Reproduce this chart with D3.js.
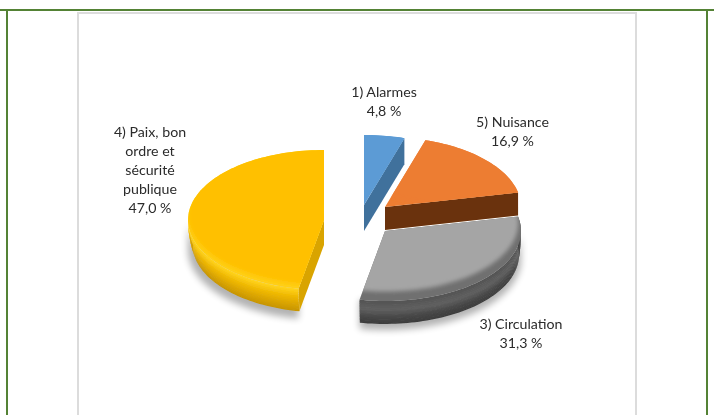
<!DOCTYPE html>
<html><head><meta charset="utf-8">
<script src="https://cdn.jsdelivr.net/npm/d3@7/dist/d3.min.js"></script>
<style>html,body{margin:0;padding:0;background:#fff}svg{display:block}text{font-family:Lato,"Open Sans",sans-serif;font-size:14.2px;fill:#2b2b2b}</style>
</head><body>
<script>
// data
const categories = ["1) Alarmes","5) Nuisance","3) Circulation","4) Paix, bon ordre et sécurité publique"];
const labelLines = [["1) Alarmes"],["5) Nuisance"],["3) Circulation"],["4) Paix, bon","ordre et","sécurité","publique"]];
const values = [4.8,16.9,31.3,47.0];
// colours
const faceColors = ["#5b9bd5","#ed7d31","#a5a5a5","#ffc000"];
const bevelColors = ["#5b9bd5","#ed7d31","#6f6f6f","#ffcf14"];
const wallStops = [["#41719c","#41719c"],["#6b3209","#6b3209"],["#555","#606060","#474747","#3c3c3c"],["#ffd21a","#eeb600","#d8a300","#c49200"]];
const cutColors = ["#41719c","#6b3209","#555","#d9a400"];
// layout
const W=714,H=415,rx=136,ry=70;
const depths=[26,23,24,25];
const rolls=[0,0,0.015,0.035];
const rimLift=[0,0,-8,-5];
const rimScale=[1.2,1.2,0.98,1];
const centers=[[364,205],[385,207],[385,231],[324,220]];
const labelPos=[[384,97],[512.5,127],[521,329],[150,137]];
const lineGap=19;
const drawOrder=[3,0,2,1];
const wallBands=14;

const svg=d3.select("body").append("svg").attr("width",W).attr("height",H);
const defs=svg.append("defs");
defs.append("filter").attr("id","soft").append("feGaussianBlur").attr("stdDeviation",0.6);
defs.append("filter").attr("id","bev").attr("x","-20%").attr("y","-20%").attr("width","140%").attr("height","140%").append("feGaussianBlur").attr("stdDeviation",2);
defs.append("filter").attr("id","shadow").attr("x","-20%").attr("y","-20%").attr("width","140%").attr("height","140%").append("feGaussianBlur").attr("stdDeviation",3.5);

// page frame
const green="#548235",grey="#dcdcdc";
svg.append("rect").attr("x",78).attr("y",13).attr("width",558).attr("height",H).attr("fill","#fff").attr("stroke",grey).attr("stroke-width",2);
svg.append("line").attr("x1",0).attr("x2",W).attr("y1",10).attr("y2",10).attr("stroke",green).attr("stroke-width",2);
svg.append("line").attr("x1",7).attr("x2",7).attr("y1",10).attr("y2",H).attr("stroke",green).attr("stroke-width",2);
svg.append("line").attr("x1",707).attr("x2",707).attr("y1",10).attr("y2",H).attr("stroke",green).attr("stroke-width",2);

const pie=d3.pie().sort(null).value(d=>d)(values);
const pt=(i,a,k=1,dy=0)=>[centers[i][0]+rx*k*Math.sin(a),centers[i][1]-ry*k*Math.cos(a)+dy];
const line=d3.line();
const arcPts=(i,a0,a1,k=1,dy=0)=>{
  const n=Math.max(2,Math.ceil((a1-a0)/0.03));
  return d3.range(n+1).map(j=>pt(i,a0+(a1-a0)*j/n,k,dy));
};
const sector=(i,k=1,dy=0)=>line([pt(i,0,0,dy),...arcPts(i,pie[i].startAngle,pie[i].endAngle,k,dy)])+"Z";
// the lower edge of the wall rolls inward a little
const kAt=(i,t)=>1-rolls[i]*t*t;

const g=svg.append("g").attr("filter","url(#soft)");
drawOrder.forEach(i=>{
  const p=pie[i],d=depths[i],PI=Math.PI;
  const gi=g.append("g").attr("class","slice");
  const a0=Math.max(p.startAngle,i===2?p.startAngle:PI/2),a1=Math.min(p.endAngle,1.5*PI);
  if(i>=2){
    const s0=Math.max(p.startAngle,PI/2);
    gi.append("path").attr("d",line([...arcPts(i,s0,a1,1,d+5),...arcPts(i,s0,a1,1,0).reverse()])+"Z")
      .attr("fill","#000").attr("opacity",0.3).attr("filter","url(#shadow)");
  }
  // cut walls
  const wallAt=a=>line([pt(i,0,0,0),pt(i,a,1,0),pt(i,a,kAt(i,1),d),pt(i,0,0,d)])+"Z";
  if(p.endAngle<PI) gi.append("path").attr("d",wallAt(p.endAngle)).attr("fill",cutColors[i]);
  if(p.startAngle>PI) gi.append("path").attr("d",wallAt(p.startAngle)).attr("fill",cutColors[i]);
  // curved outer wall, in thin bands
  if(a1>a0){
    const col=d3.scaleLinear().domain(d3.range(wallStops[i].length).map(j=>j/(wallStops[i].length-1))).range(wallStops[i]).interpolate(d3.interpolateRgb);
    d3.range(wallBands).forEach(b=>{
      const t0=b/wallBands,tt1=Math.min((b+1.4)/wallBands,1);
      gi.append("path").attr("d",line([...arcPts(i,a0,a1,kAt(i,t0),d*t0),...arcPts(i,a0,a1,kAt(i,tt1),d*tt1).reverse()])+"Z")
        .attr("fill",col(t0));
    });
  }
  // face with a blurred rim on its lower side
  const cid="clip"+i;
  defs.append("clipPath").attr("id",cid).append("path").attr("d",sector(i));
  gi.append("path").attr("d",sector(i)).attr("fill",bevelColors[i]);
  gi.append("g").attr("clip-path",`url(#${cid})`)
    .append("path").attr("d",line([pt(i,0,0,-12),...arcPts(i,p.startAngle-0.5,p.endAngle+0.5,rimScale[i],rimLift[i])])+"Z")
    .attr("fill",faceColors[i]).attr("filter","url(#bev)");
});

// labels
const fmt=v=>d3.format(".1f")(v).replace(".",",")+" %";
labelLines.forEach((ls,i)=>{
  const t=svg.append("text").attr("text-anchor","middle").attr("y",labelPos[i][1]);
  [...ls,fmt(values[i])].forEach((s,j)=>t.append("tspan").attr("x",labelPos[i][0]).attr("dy",j?lineGap:0).text(s));
});
</script>
</body></html>
